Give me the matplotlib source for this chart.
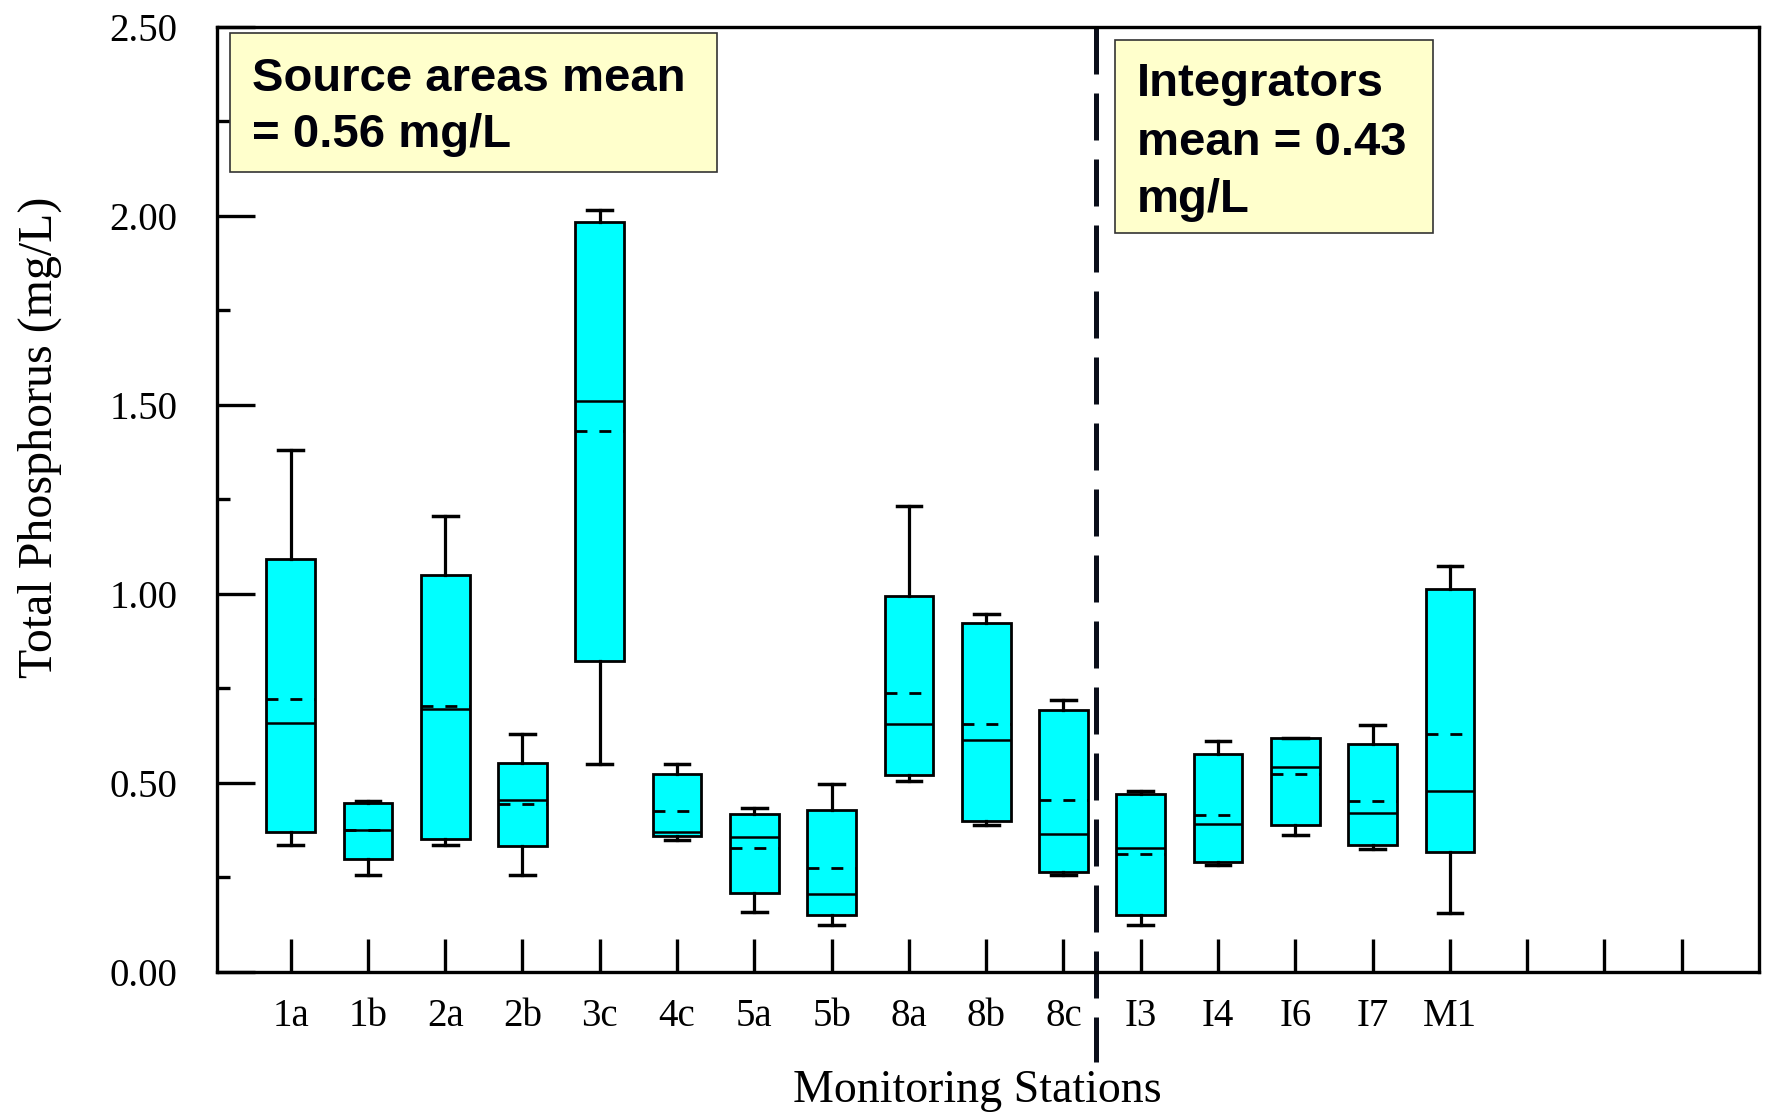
import matplotlib.pyplot as plt
from matplotlib.patches import Rectangle
from matplotlib.ticker import MultipleLocator

plt.rcParams['font.family'] = ['Liberation Serif', 'DejaVu Serif']

# box plot statistics (mg/L)
stations = ['1a', '1b', '2a', '2b', '3c', '4c', '5a', '5b', '8a', '8b', '8c',
            'I3', 'I4', 'I6', 'I7', 'M1']
whislo = [0.335, 0.256, 0.335, 0.256, 0.550, 0.350, 0.158, 0.123, 0.505, 0.388, 0.256,
          0.123, 0.282, 0.362, 0.326, 0.157]
q1 = [0.371, 0.300, 0.353, 0.334, 0.823, 0.360, 0.210, 0.150, 0.521, 0.400, 0.265,
      0.150, 0.290, 0.388, 0.335, 0.317]
med = [0.658, 0.375, 0.696, 0.455, 1.511, 0.370, 0.356, 0.205, 0.657, 0.613, 0.365,
       0.329, 0.391, 0.543, 0.421, 0.480]
means = [0.721, 0.375, 0.703, 0.445, 1.430, 0.427, 0.329, 0.275, 0.738, 0.657, 0.454,
         0.311, 0.416, 0.524, 0.453, 0.630]
q3 = [1.093, 0.446, 1.049, 0.552, 1.983, 0.525, 0.419, 0.428, 0.995, 0.922, 0.693,
      0.472, 0.576, 0.620, 0.602, 1.013]
whishi = [1.380, 0.453, 1.206, 0.630, 2.017, 0.550, 0.433, 0.496, 1.233, 0.948, 0.719,
          0.479, 0.611, 0.620, 0.654, 1.073]
n_slots = 19          # empty tick slots after M1
divider = 11.42       # between source areas and integrators

fig = plt.figure(figsize=(17.67, 11.14), dpi=100)
ax = fig.add_axes([0.1226, 0.1275, 0.8729, 0.8483])

stats = []
for i in range(len(stations)):
    stats.append({'label': stations[i], 'whislo': whislo[i], 'q1': q1[i], 'med': med[i],
                  'mean': means[i], 'q3': q3[i], 'whishi': whishi[i], 'fliers': []})

pos = list(range(1, len(stations) + 1))
ax.bxp(stats, positions=pos, widths=0.63, capwidths=0.32, patch_artist=True,
       showmeans=True, meanline=True, manage_ticks=False,
       boxprops=dict(facecolor='#00ffff', edgecolor='black', linewidth=2.0),
       medianprops=dict(color='black', linewidth=1.8),
       meanprops=dict(color='black', linewidth=2.0, linestyle=(0, (4.3, 4.3))),
       whiskerprops=dict(color='black', linewidth=2.3),
       capprops=dict(color='black', linewidth=2.5))

# divider line running from the top of the frame down past the tick labels
ax.plot([divider, divider], [1.0, -0.095], transform=ax.get_xaxis_transform(),
        clip_on=False, color='#0a0e1a', lw=3.6, linestyle=(0, (9.4, 3.8)))

ax.set_xlim(0.043, 20.0)
ax.set_ylim(0, 2.5)
ax.set_xticks(range(1, n_slots + 1))
ax.set_xticklabels(stations + [''] * (n_slots - len(stations)))
ax.yaxis.set_major_locator(MultipleLocator(0.5))
ax.yaxis.set_minor_locator(MultipleLocator(0.25))
ax.yaxis.set_major_formatter(plt.FormatStrFormatter('%.2f'))

ax.tick_params(axis='y', which='major', direction='in', length=27, width=2.4,
               pad=28, labelsize=28)
ax.tick_params(axis='y', which='minor', direction='in', length=9.5, width=2.4)
ax.tick_params(axis='x', direction='in', length=23.5, width=2.4, pad=19, labelsize=28)
for s in ax.spines.values():
    s.set_linewidth(2.4)

ax.set_ylabel('Total Phosphorus (mg/L)', fontsize=34.5)
ax.yaxis.set_label_coords(-0.100, 0.566)
ax.set_xlabel('Monitoring Stations', fontsize=33)
ax.xaxis.set_label_coords(0.493, -0.103)

W, H = 1767, 1114


def fx(px):
    return px / W


def fy(py):
    return 1 - py / H


boxes = [((230, 33, 717, 172), ['Source areas mean', '= 0.56 mg/L'], 252, [91, 147]),
         ((1115, 40, 1433, 233), ['Integrators', 'mean = 0.43', 'mg/L'], 1137, [96, 155, 212])]
for (x0, y0, x1, y1), lines, tx, bases in boxes:
    fig.add_artist(Rectangle((fx(x0), fy(y1)), fx(x1) - fx(x0), fy(y0) - fy(y1),
                             transform=fig.transFigure, facecolor='#ffffcc',
                             edgecolor='#333333', linewidth=1.2, zorder=3))
    for txt, b in zip(lines, bases):
        fig.text(fx(tx), fy(b), txt, family='Liberation Sans', fontweight='bold',
                 fontsize=34, va='baseline', ha='left', color='#00000a', zorder=4)

fig.savefig('out.png', dpi=100)
